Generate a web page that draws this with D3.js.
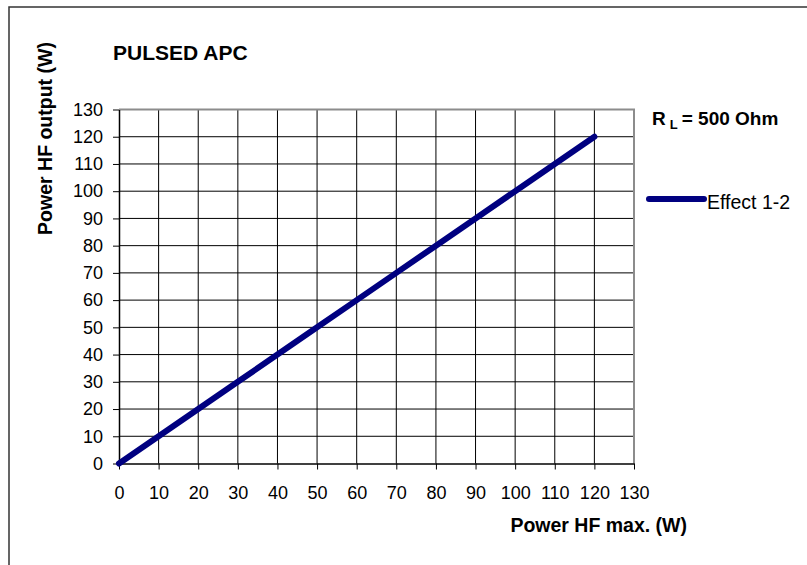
<!DOCTYPE html>
<html>
<head>
<meta charset="utf-8">
<script src="https://cdn.jsdelivr.net/npm/d3@7"></script>
<style>
  html, body { margin: 0; padding: 0; background: #fff; }
  svg { display: block; font-family: "Liberation Sans", Arial, sans-serif; }
</style>
</head>
<body>
<svg id="chart" width="807" height="565"></svg>
<script>
// ---- data ----
const xValues = [0, 10, 20, 30, 40, 50, 60, 70, 80, 90, 100, 110, 120];
const yValues = [0, 10, 20, 30, 40, 50, 60, 70, 80, 90, 100, 110, 120];
const xTicks = [0, 10, 20, 30, 40, 50, 60, 70, 80, 90, 100, 110, 120, 130];
const yTicks = [0, 10, 20, 30, 40, 50, 60, 70, 80, 90, 100, 110, 120, 130];
const seriesName = "Effect 1-2";
const titleText = "PULSED APC";
const xTitle = "Power HF max. (W)";
const yTitle = "Power HF output (W)";

const svg = d3.select("#chart");
const plot = { left: 119, right: 634, top: 109.5, bottom: 463.5 };

// outer frame (extends beyond visible area at right/bottom)
svg.append("rect")
  .attr("x", 9).attr("y", 7).attr("width", 900).attr("height", 700)
  .attr("fill", "#fff").attr("stroke", "#333").attr("stroke-width", 1.5);

const x = d3.scaleLinear().domain([0, 130]).range([plot.left, plot.right]);
const y = d3.scaleLinear().domain([0, 130]).range([plot.bottom, plot.top]);

// gridlines
const g = svg.append("g");
g.selectAll("line.vg").data(xTicks.slice(1, -1)).join("line")
  .attr("x1", d => x(d)).attr("x2", d => x(d))
  .attr("y1", plot.top).attr("y2", plot.bottom)
  .attr("stroke", "#000").attr("stroke-width", 1);
g.selectAll("line.hg").data(yTicks.slice(1, -1)).join("line")
  .attr("x1", plot.left).attr("x2", plot.right)
  .attr("y1", d => y(d)).attr("y2", d => y(d))
  .attr("stroke", "#000").attr("stroke-width", 1);

// top and right border (gray)
svg.append("path")
  .attr("d", `M${plot.left},${plot.top}H${plot.right}V${plot.bottom}`)
  .attr("fill", "none").attr("stroke", "#8c8c8c").attr("stroke-width", 2);

// axes
const xAxis = d3.axisBottom(x).tickValues(xTicks).tickSize(6).tickSizeOuter(0).tickPadding(16.5);
const yAxis = d3.axisLeft(y).tickValues(yTicks).tickSize(6).tickSizeOuter(0).tickPadding(10);

const gx = svg.append("g").attr("transform", `translate(0,${plot.bottom})`).call(xAxis);
const gy = svg.append("g").attr("transform", `translate(${plot.left},0)`).call(yAxis);
[gx, gy].forEach(a => {
  a.attr("font-size", null).attr("font-family", null);
  a.select(".domain").attr("stroke", "#000").attr("stroke-width", 1.5);
  a.selectAll(".tick line").attr("stroke", "#000").attr("stroke-width", 1);
  a.selectAll(".tick text").attr("fill", "#000")
    .style("font-family", "'Liberation Sans', Arial, sans-serif").style("font-size", "18px");
});
gy.selectAll(".tick text").attr("x", -16);

// series line
const line = d3.line().x((d, i) => x(xValues[i])).y(d => y(d));
svg.append("path")
  .datum(yValues)
  .attr("d", line)
  .attr("fill", "none")
  .attr("stroke", "#000080")
  .attr("stroke-width", 6)
  .attr("stroke-linecap", "round")
  .attr("stroke-linejoin", "round");

// title
svg.append("text").attr("x", 113).attr("y", 60)
  .style("font-size", "21px").style("font-weight", "bold").text(titleText);

// x axis title
svg.append("text").attr("x", 687).attr("y", 532).attr("text-anchor", "end")
  .style("font-size", "19.5px").style("font-weight", "bold").text(xTitle);

// y axis title
svg.append("text")
  .attr("transform", "translate(52,138.5) rotate(-90)")
  .attr("text-anchor", "middle")
  .style("font-size", "19.5px").style("font-weight", "bold").text(yTitle);

// R_L annotation
const rl = svg.append("text").attr("x", 652).attr("y", 125)
  .style("font-size", "19px").style("font-weight", "bold");
rl.append("tspan").text("R");
rl.append("tspan").attr("dx", 4).attr("dy", 4).style("font-size", "13px").text("L");
rl.append("tspan").attr("dx", 4).attr("dy", -4).text("= 500 Ohm");

// legend
const leg = svg.append("g");
leg.append("line")
  .attr("x1", 649).attr("x2", 704).attr("y1", 199).attr("y2", 199)
  .attr("stroke", "#000080").attr("stroke-width", 6).attr("stroke-linecap", "round");
leg.append("text").attr("x", 707).attr("y", 209)
  .style("font-size", "19.5px").text(seriesName);
</script>
</body>
</html>
